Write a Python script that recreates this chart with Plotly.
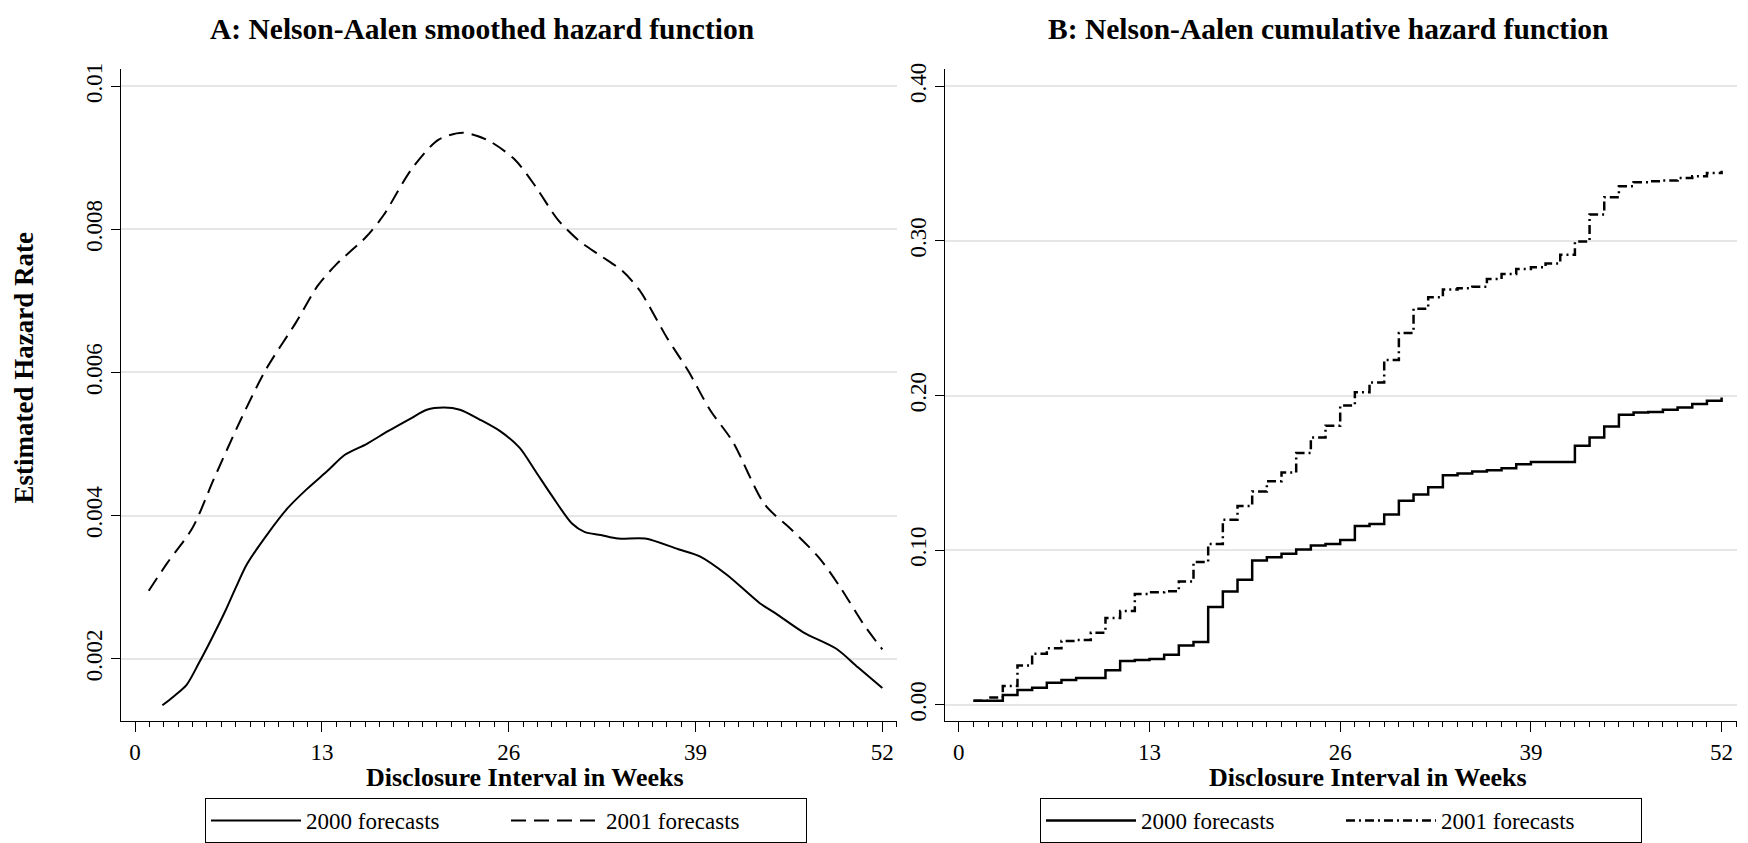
import plotly.graph_objects as go

# ---------------- Data ----------------
# Panel A: Nelson-Aalen smoothed hazard
weeks_a_2000 = [1.9, 2.66, 3.6, 4.44, 5.3, 6.26, 7.0, 7.78, 9.1, 10.6, 11.95, 13.47, 14.6, 16.1,
                17.6, 19.2, 20.3, 21.5, 22.6, 24.1, 25.4, 26.75, 27.9, 29.0, 30.4, 31.3, 32.4,
                33.6, 35.5, 37.8, 39.3, 41.2, 43.45, 44.6, 46.5, 48.8, 50.3, 52.0]
hazard_2000 = [0.00135, 0.00147, 0.00164, 0.00194, 0.00227, 0.00266, 0.00299, 0.00332, 0.00371,
               0.00410, 0.00437, 0.00464, 0.00485, 0.00500, 0.00518, 0.00536, 0.00548, 0.00551,
               0.00548, 0.00533, 0.00518, 0.00495, 0.00461, 0.00428, 0.00389, 0.00377, 0.00373,
               0.00368, 0.00368, 0.00353, 0.00343, 0.00317, 0.00278, 0.00263, 0.00237, 0.00214,
               0.00188, 0.00159]

weeks_a_2001 = [0.95, 2.28, 4.0, 5.5, 7.4, 9.1, 11.2, 12.7, 14.0, 16.1, 17.3, 19.2, 21.1, 22.8,
                24.5, 26.4, 27.9, 29.4, 30.9, 32.4, 33.9, 35.1, 37.0, 38.5, 40.0, 41.6, 43.8,
                45.7, 47.6, 49.1, 50.7, 52.0]
hazard_2001 = [0.00295, 0.00335, 0.00383, 0.00452, 0.00536, 0.00604, 0.00670, 0.00721, 0.00751,
               0.00790, 0.00820, 0.00883, 0.00925, 0.00935, 0.00925, 0.00898, 0.00859, 0.00814,
               0.00784, 0.00763, 0.00742, 0.00715, 0.00649, 0.00602, 0.00548, 0.00503, 0.00416,
               0.00380, 0.00341, 0.00299, 0.00248, 0.00213]

# Panel B: Nelson-Aalen cumulative hazard (step functions, weeks 1..52)
weeks_b = list(range(1, 53))
cumhaz_2000 = [0.0026, 0.0026, 0.0064, 0.0096, 0.0111, 0.0143, 0.0160, 0.0174, 0.0174, 0.0223,
               0.0283, 0.0289, 0.0296, 0.0323, 0.0383, 0.0406, 0.0632, 0.0732, 0.0809, 0.0934,
               0.0955, 0.0977, 0.1005, 0.1031, 0.1040, 0.1066, 0.1157, 0.1170, 0.1231, 0.1320,
               0.1360, 0.1407, 0.1485, 0.1496, 0.1508, 0.1517, 0.1530, 0.1555, 0.1570, 0.1570,
               0.1570, 0.1676, 0.1729, 0.1800, 0.1876, 0.1890, 0.1893, 0.1908, 0.1923, 0.1946,
               0.1966, 0.1987]
cumhaz_2001 = [0.0026, 0.0047, 0.0121, 0.0255, 0.0330, 0.0366, 0.0413, 0.0419, 0.0466, 0.0562,
               0.0606, 0.0717, 0.0728, 0.0734, 0.0798, 0.0923, 0.1040, 0.1197, 0.1286, 0.1380,
               0.1445, 0.1502, 0.1629, 0.1729, 0.1805, 0.1936, 0.2021, 0.2085, 0.2230, 0.2405,
               0.2562, 0.2636, 0.2685, 0.2694, 0.2704, 0.2754, 0.2786, 0.2818, 0.2829, 0.2854,
               0.2910, 0.2996, 0.3171, 0.3283, 0.3353, 0.3379, 0.3385, 0.3390, 0.3407, 0.3418,
               0.3439, 0.3454]

x_ticks = [0, 13, 26, 39, 52]
ya_ticks = [0.002, 0.004, 0.006, 0.008, 0.01]
ya_ticktext = ["0.002", "0.004", "0.006", "0.008", "0.01"]
yb_ticks = [0.0, 0.1, 0.2, 0.3, 0.4]
yb_ticktext = ["0.00", "0.10", "0.20", "0.30", "0.40"]

names = ["2000 forecasts", "2001 forecasts"]
titles = ["<b>A: Nelson-Aalen smoothed hazard function</b>",
          "<b>B: Nelson-Aalen cumulative hazard function</b>"]
x_title = "<b>Disclosure Interval in Weeks</b>"
y_title = "<b>Estimated Hazard Rate</b>"

# ---------------- Figure ----------------
W, H = 1748, 843
FONT = "Liberation Serif"

fig = go.Figure()

fig.add_trace(go.Scatter(x=weeks_a_2000, y=hazard_2000, mode="lines", name=names[0],
                         line=dict(color="black", width=2, shape="spline", smoothing=0.8),
                         xaxis="x", yaxis="y", legend="legend"))
fig.add_trace(go.Scatter(x=weeks_a_2001, y=hazard_2001, mode="lines", name=names[1],
                         line=dict(color="black", width=2, dash="15px,8px", shape="spline", smoothing=0.8),
                         xaxis="x", yaxis="y", legend="legend"))
fig.add_trace(go.Scatter(x=weeks_b, y=cumhaz_2000, mode="lines", name=names[0],
                         line=dict(color="black", width=2.5, shape="hv"),
                         xaxis="x2", yaxis="y2", legend="legend2"))
fig.add_trace(go.Scatter(x=weeks_b, y=cumhaz_2001, mode="lines", name=names[1],
                         line=dict(color="black", width=2.5, dash="9px,4px,2px,4px", shape="hv"),
                         xaxis="x2", yaxis="y2", legend="legend2"))

def px_x(p):
    return p / W

def px_y(p):
    return 1 - p / H

ydom = [px_y(721), px_y(63)]

xaxis_common = dict(
    tickvals=x_ticks, ticks="outside", ticklen=10, tickwidth=1.3, tickcolor="black",
    showline=True, linecolor="black", linewidth=1.3, showgrid=False, zeroline=False,
    tickfont=dict(family=FONT, size=23, color="black"),
    minor=dict(dtick=1, tick0=0, ticks="outside", ticklen=5, tickwidth=1, tickcolor="black", showgrid=False),
)
yaxis_common = dict(
    ticks="outside", ticklen=9, tickwidth=1.3, tickcolor="black", tickangle=-90,
    showline=True, linecolor="black", linewidth=1.3, showgrid=True, gridcolor="#e6e6e6", gridwidth=2,
    zeroline=False, tickfont=dict(family=FONT, size=23, color="black"), domain=ydom,
)

legend_common = dict(orientation="h", xanchor="left", yanchor="top",
                     bordercolor="black", borderwidth=1, bgcolor="white", itemwidth=90,
                     entrywidth=195, font=dict(family=FONT, size=23, color="black"))

fig.update_layout(
    width=W, height=H,
    margin=dict(l=0, r=0, t=0, b=0),
    paper_bgcolor="white", plot_bgcolor="white",
    font=dict(family=FONT, color="black"),
    xaxis=dict(xaxis_common, domain=[px_x(121), px_x(897)], range=[-0.98, 53.02], anchor="y"),
    yaxis=dict(yaxis_common, range=[0.001128, 0.010235], tickvals=ya_ticks, ticktext=ya_ticktext,
               anchor="x"),
    xaxis2=dict(xaxis_common, domain=[px_x(945), px_x(1737)], range=[-0.94, 53.05], anchor="y2"),
    yaxis2=dict(yaxis_common, range=[-0.01057, 0.4109], tickvals=yb_ticks, ticktext=yb_ticktext,
                anchor="x2"),
    legend=dict(legend_common, x=px_x(205), y=px_y(799)),
    legend2=dict(legend_common, x=px_x(1040), y=px_y(799)),
)

ann = []
ann.append(dict(text=titles[0], x=px_x(482), y=px_y(22), xref="paper", yref="paper",
                showarrow=False, xanchor="center", yanchor="middle",
                font=dict(family=FONT, size=29.5, color="black")))
ann.append(dict(text=titles[1], x=px_x(1328), y=px_y(22), xref="paper", yref="paper",
                showarrow=False, xanchor="center", yanchor="middle",
                font=dict(family=FONT, size=29.5, color="black")))
ann.append(dict(text=x_title, x=px_x(525), y=px_y(778), xref="paper", yref="paper",
                showarrow=False, xanchor="center", yanchor="middle",
                font=dict(family=FONT, size=26, color="black")))
ann.append(dict(text=x_title, x=px_x(1368), y=px_y(778), xref="paper", yref="paper",
                showarrow=False, xanchor="center", yanchor="middle",
                font=dict(family=FONT, size=26, color="black")))
ann.append(dict(text=y_title, x=px_x(24), y=px_y(365), xref="paper", yref="paper",
                showarrow=False, xanchor="center", yanchor="middle", textangle=-90,
                font=dict(family=FONT, size=27, color="black")))
fig.update_layout(annotations=ann)

fig.write_html("out.html")
